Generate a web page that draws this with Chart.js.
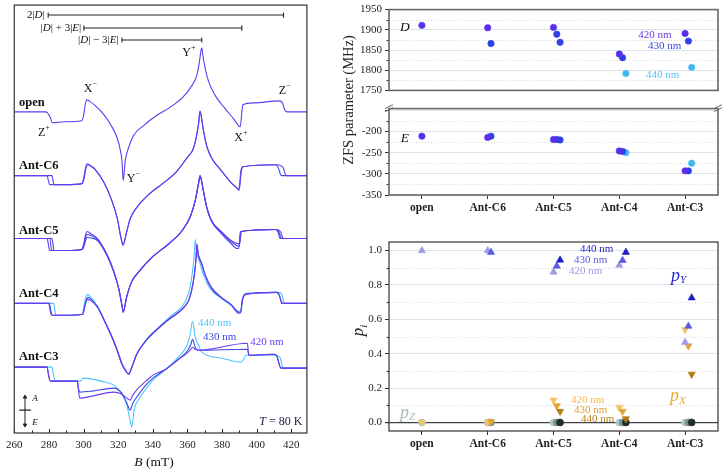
<!DOCTYPE html>
<html>
<head>
<meta charset="utf-8">
<script src="https://cdn.jsdelivr.net/npm/chart.js@4"></script>
<style>
  body { margin: 0; background: #fff; width: 725px; height: 469px; overflow: hidden; position: relative; font-family: "Liberation Serif", serif; }
  canvas { position: absolute; }
  .ylab { position: absolute; white-space: nowrap; transform: rotate(-90deg); transform-origin: center; text-align: center; color: #222; line-height: 18px; }
</style>
</head>
<body>
<canvas id="spec" width="312" height="469" style="left:0;top:0;width:312px;height:469px"></canvas>
<canvas id="zfsD" width="395" height="100" style="left:330px;top:0;width:395px;height:100px"></canvas>
<canvas id="zfsE" width="395" height="125" style="left:330px;top:99px;width:395px;height:125px"></canvas>
<canvas id="pops" width="395" height="244" style="left:330px;top:225px;width:395px;height:244px"></canvas>
<div class="ylab" style="left:258px;top:91px;width:180px;font-size:14.5px">ZFS parameter (MHz)</div>
<div class="ylab" style="left:338px;top:321px;width:40px;font-size:17px"><i>p</i><i style="font-size:11px;position:relative;top:4px">i</i></div>
<script>
// ---- categories / measured parameters ----
const categories = ['open', 'Ant-C6', 'Ant-C5', 'Ant-C4', 'Ant-C3'];

const zfsD420 = [1911, 1905, 1906, 1840, 1891];
const zfsD430 = [null, 1866, 1889, 1831, 1872];
const zfsD440 = [null, null, 1869, 1792, 1807];
const zfsE420 = [-211, -214, -219, -246, -293];
const zfsE430 = [null, -211, -219, -247, -293];
const zfsE440 = [null, null, -220, -250, -275];

const pY420 = [1.0, 1.0, 0.875, 0.915, 0.465];
const pY430 = [null, 0.99, 0.91, 0.943, 0.56];
const pY440 = [null, null, 0.945, 0.99, 0.725];
const pX420 = [0, 0, 0.13, 0.087, 0.54];
const pX430 = [null, 0.005, 0.097, 0.064, 0.445];
const pX440 = [null, null, 0.064, 0.021, 0.28];
const pZ420 = [0, 0, 0, 0, 0];
const pZ430 = [null, 0, 0, 0, 0];
const pZ440 = [null, null, 0, 0, 0];

// ---- EPR spectra: [B (mT), signal rel. to baseline (a.u.)] ----
const specOpen = [[260,0],[278,0],[279.2,-0.1],[280.9,-0.6],[282,-1.1],[289.3,-1.0],[298.9,-0.9],[300,-0.4],[301.2,0.9],[302.1,1.2],[304,1.0],[306.3,0.7],[311.9,-0.3],[315.7,-1.3],[319.4,-2.6],[321.3,-3.9],[322.2,-4.9],[322.9,-6.9],[324.1,-4.9],[326,-3.6],[328.8,-2.4],[334.5,-1.4],[342,-0.4],[349.5,0.4],[357,1.4],[361.7,2.4],[365.5,3.7],[367,5.1],[367.9,6.2],[368.3,6.4],[368.9,5.7],[370.2,4.4],[372.1,3.1],[375.8,1.7],[381.4,0.4],[387.1,-0.8],[389.6,-1.4],[390.5,-1.5],[391.3,-0.3],[392,0.7],[398.4,0.9],[413.4,1.1],[414.9,0.9],[416.2,0.2],[417.5,0],[429,0]];

const specC6_420 = [[260,0],[279,0],[279.7,-0.5],[280.4,-0.9],[290,-0.9],[299,-0.8],[300,-0.3],[301.2,0.8],[302.1,1.2],[304,1.0],[306.3,0.7],[311.9,-0.7],[315.7,-2.2],[319.4,-4.2],[321.6,-6.2],[322.8,-7.0],[324.7,-5.8],[327,-4.3],[330.7,-3.2],[338.2,-1.8],[345.7,-0.8],[353.2,0.3],[359.8,1.8],[363.6,2.8],[366.4,5.2],[367.3,6.5],[369.2,4.6],[371.1,3.0],[373.9,1.8],[379.6,0.5],[385.2,-0.7],[389,-1.3],[389.9,-1.45],[391.2,0.5],[392.2,0.9],[411.6,1.1],[415.3,0.8],[416.4,0.2],[417.4,0],[429,0]];
const specC6_430 = [[260,0],[281.8,0],[282.4,-0.5],[283,-0.9],[290,-0.9],[299.3,-0.8],[300.3,-0.3],[301.5,0.8],[302.4,1.1],[304.3,0.95],[306.5,0.65],[311.9,-0.7],[315.7,-2.2],[319.4,-4.2],[321.6,-6.2],[322.8,-6.9],[324.7,-5.8],[327,-4.3],[330.7,-3.2],[338.2,-1.8],[345.7,-0.8],[353.2,0.3],[359.8,1.8],[363.6,2.8],[366.4,5.1],[367.2,6.4],[369.2,4.6],[371.1,3.0],[373.9,1.8],[379.6,0.5],[385.2,-0.7],[388.8,-1.3],[389.6,-1.45],[390.9,0.5],[391.9,0.9],[411,1.1],[412.5,0.8],[413.6,0.2],[414.5,0],[429,0]];

const specC5_420 = [[260,0],[279,0],[279.7,-0.6],[280.4,-1.2],[290,-1.2],[299,-1.1],[300,-0.6],[301.2,0.4],[302.1,0.7],[304,0.5],[308.1,0],[313.8,-1.7],[317.5,-3.3],[320.3,-5.0],[322.2,-6.7],[322.9,-7.4],[325,-5.8],[327.9,-4.3],[332.6,-3.2],[340.1,-1.8],[349.5,-0.5],[357,0.8],[361.7,2.2],[364.5,3.8],[366.4,5.5],[367.3,6.3],[369.2,4.8],[371.1,3.2],[373.9,1.8],[379.6,0.7],[385.2,-0.2],[389.3,-0.5],[390.2,-0.5],[391.2,0.7],[411.6,0.9],[414,0.6],[415,0.1],[415.5,0],[429,0]];
const specC5_430 = [[260,0],[280.5,0],[281.1,-0.6],[281.6,-1.2],[290,-1.2],[299.2,-1.1],[300.2,-0.6],[301.4,0.2],[302.3,0.4],[304.2,0.3],[308.1,-0.1],[313.8,-1.7],[317.5,-3.3],[320.3,-5.0],[322.2,-6.7],[322.9,-7.4],[325,-5.8],[327.9,-4.3],[332.6,-3.2],[340.1,-1.8],[349.5,-0.5],[357,0.8],[361.7,2.2],[364.5,3.8],[366.4,5.5],[367.3,6.3],[369.2,4.8],[371.1,3.2],[373.9,1.8],[379.6,0.6],[385.2,-0.3],[389,-0.75],[389.9,-0.8],[390.9,0.7],[411.6,0.9],[413,0.6],[414,0.1],[414.5,0],[429,0]];
const specC5_440 = [[260,0],[281.8,0],[282.4,-0.6],[283,-1.2],[290,-1.2],[299.4,-1.1],[300.4,-0.7],[301.6,0],[302.5,0.1],[304.4,0.05],[308.1,-0.2],[313.8,-1.8],[317.5,-3.4],[320.3,-5.0],[322.2,-6.7],[322.9,-7.3],[325,-5.8],[327.9,-4.3],[332.6,-3.2],[340.1,-1.8],[349.5,-0.5],[357,0.8],[361.7,2.2],[364.5,3.8],[366.4,5.5],[367.3,6.2],[369.2,4.8],[371.1,3.1],[373.9,1.7],[379.6,0.5],[385.2,-0.5],[388.7,-1.0],[389.6,-1.0],[390.6,0.7],[411,0.9],[412.4,0.6],[413.2,0.1],[413.6,0],[429,0]];

const specC4_420 = [[260,0],[279.9,0],[280.6,-0.6],[281.5,-1.2],[290,-1.2],[299.5,-1.1],[300.5,-0.5],[301.6,0.2],[302.5,0.4],[304,0.3],[308.1,-0.4],[311.9,-1.7],[315.7,-3.1],[319.4,-4.7],[322.2,-6.1],[324.1,-6.7],[326,-7.1],[327.9,-6.4],[330.7,-5.1],[336.3,-3.7],[343.9,-2.4],[349.5,-1.6],[357,-0.6],[360.8,0.3],[362.5,1.3],[364,2.8],[365,4.5],[365.5,5.9],[366.3,4.9],[368.3,4.0],[370.2,2.9],[373.9,1.6],[379.6,0.6],[385.2,-0.1],[389.9,-0.9],[390.8,-0.9],[391.8,0.3],[393.7,0.9],[411.6,1.1],[413,0.8],[414,0.2],[414.4,0],[429,0]];
const specC4_430 = [[260,0],[280.3,0],[281,-0.6],[281.9,-1.2],[290,-1.2],[299.6,-1.1],[300.6,-0.4],[301.7,0.4],[302.6,0.6],[304.1,0.45],[308.1,-0.35],[311.9,-1.7],[315.7,-3.1],[319.4,-4.7],[322.2,-6.1],[324.1,-6.7],[326,-7.1],[327.9,-6.4],[330.7,-5.1],[336.3,-3.7],[343.9,-2.4],[349.5,-1.55],[357,-0.55],[360.8,0.35],[362.5,1.4],[364,2.9],[365,4.6],[365.4,5.9],[366.2,4.9],[368.3,3.9],[370.2,2.8],[373.9,1.5],[379.6,0.55],[385.2,-0.15],[389.7,-1.0],[390.6,-1.0],[391.6,0.3],[393.5,0.9],[411.6,1.1],[413.2,0.8],[414.2,0.2],[414.6,0],[429,0]];
const specC4_440 = [[260,0],[282.7,0],[283.3,-0.6],[284.2,-1.2],[290,-1.2],[299.2,-1.1],[300.2,-0.3],[301.3,0.6],[302.2,0.9],[303.8,0.7],[308.1,-0.3],[311.9,-1.6],[315.7,-3.0],[319.4,-4.6],[322.2,-6.0],[324.4,-6.7],[326.3,-7.1],[328.2,-6.3],[331,-5.0],[336.3,-3.6],[343.9,-2.3],[349.5,-1.4],[357,-0.3],[359.8,0.6],[361.5,1.6],[363,3.3],[364,5.0],[364.5,6.4],[365.3,5.2],[367.3,4.0],[369.2,2.9],[373,1.5],[379.6,0.5],[385.2,-0.2],[389.9,-0.8],[390.8,-0.8],[391.8,0.4],[393.7,1.0],[412.5,1.1],[414.5,0.9],[415.6,0.2],[416,0],[429,0]];

const specC3_420 = [[260,0],[279,0],[279.7,-0.7],[280.9,-1.4],[296.5,-1.4],[297,-2.2],[297.8,-3.1],[305,-2.9],[317.5,-2.5],[322,-2.7],[325,-3.1],[326.9,-3.3],[328.5,-2.8],[331.6,-2.1],[336,-1.4],[340.1,-0.8],[347.6,-0.2],[354.2,0.7],[359.8,1.4],[362,1.8],[363,2.0],[364.5,1.8],[366.4,1.7],[394.6,2.4],[395.5,1.2],[410,1.3],[411.7,1.1],[413,0.3],[414,-0.1],[429,-0.1]];
const specC3_430 = [[260,0],[279,0],[279.7,-0.7],[280.9,-1.4],[296.5,-1.4],[297,-2.0],[297.8,-2.5],[305,-2.4],[317.5,-2.1],[322,-2.6],[325,-3.6],[326.9,-4.3],[328.5,-3.6],[331.6,-2.8],[336,-1.8],[340.1,-1.1],[347.6,-0.2],[354.2,0.7],[359.8,1.6],[362,2.3],[363,2.8],[364.5,2.0],[366.4,1.7],[394.6,1.8],[395.5,1.2],[410,1.3],[411.7,1.1],[413,0.3],[414,-0.1],[429,-0.1]];
const specC3_440 = [[260,0],[281.8,0],[282.6,-0.7],[283.7,-1.4],[298.4,-1.4],[299.2,-1.2],[300,-1.1],[305,-1.2],[310,-1.4],[317.5,-1.8],[322,-2.6],[325,-3.8],[326.5,-5.0],[327.9,-6.0],[329.3,-4.2],[331.6,-3.3],[336,-2.2],[340.1,-1.3],[347.6,-0.2],[354.2,0.9],[359.8,2.2],[361.5,3.2],[363,4.6],[364.5,3.0],[366.4,2.2],[368.3,1.5],[380,0.9],[390.8,0.5],[392.5,0.8],[393.6,1.2],[410,1.2],[413.4,1.0],[414.5,0.3],[415.3,-0.1],[429,-0.1]];

// vertical stacking of the traces (open, C6, C5, C4, C3)
const traceOffsets = [32.2, 25.8, 19.5, 13.0, 6.6];
// field-separation bars: 2|D|, |D|+3|E|, |D|-3|E|
const barSpans = [[279.6, 415.5], [300.2, 391.4], [322.2, 368.3]];

// ---- colours ----
const cOpen = '#5b3df0', c420 = '#6b3cf0', c430 = '#3a48ea', c440 = '#4cc6f8';
const SERIF = '"Liberation Serif", serif';
Chart.defaults.font.family = SERIF;
Chart.defaults.color = '#222';

function fontStr(p, it) {
  const it_ = (p.italic !== undefined ? p.italic : it.italic) ? 'italic ' : '';
  const bd = (p.bold !== undefined ? p.bold : it.bold) ? 'bold ' : '';
  return it_ + bd + (p.size || it.size || 11) + 'px ' + SERIF;
}

// text drawn in data coordinates
function textLayer(items) {
  return {
    id: 'textLayer',
    afterDraw(chart) {
      const ctx = chart.ctx, xs = chart.scales.x, ys = chart.scales.y;
      ctx.save();
      ctx.textBaseline = 'middle';
      ctx.textAlign = 'left';
      items.forEach(it => {
        const parts = typeof it.text === 'string' ? [{ t: it.text }] : it.text;
        const widths = parts.map(p => { ctx.font = fontStr(p, it); return ctx.measureText(p.t).width; });
        const w = widths.reduce((a, b) => a + b, 0);
        let px = xs.getPixelForValue(it.x);
        const py = ys.getPixelForValue(it.y);
        if (it.align === 'right') px -= w;
        else if (it.align !== 'left') px -= w / 2;
        parts.forEach((p, i) => {
          ctx.font = fontStr(p, it);
          ctx.fillStyle = p.color || it.color || '#111';
          ctx.fillText(p.t, px, py + (p.dy || 0));
          px += widths[i];
        });
      });
      ctx.restore();
    }
  };
}

function frame(color, width, breakTop) {
  return {
    id: 'frame',
    afterDatasetsDraw(chart) {
      const { ctx, chartArea: a } = chart;
      ctx.save();
      ctx.strokeStyle = color;
      ctx.lineWidth = width;
      ctx.strokeRect(a.left, a.top, a.right - a.left, a.bottom - a.top);
      if (breakTop) {
        ctx.lineWidth = 1;
        [a.left, a.right].forEach(x => {
          [-2, 1].forEach(d => {
            ctx.beginPath();
            ctx.moveTo(x - 4, a.top + d + 2);
            ctx.lineTo(x + 4, a.top + d - 2);
            ctx.stroke();
          });
        });
      }
      ctx.restore();
    }
  };
}

// dotted minor grid + short minor ticks on the y axis
function minorGrid(step) {
  return {
    id: 'minorGrid',
    beforeDatasetsDraw(chart) {
      const { ctx, chartArea: a, scales: { y } } = chart;
      const n0 = Math.ceil(y.min / step - 1e-9), n1 = Math.floor(y.max / step + 1e-9);
      ctx.save();
      ctx.lineWidth = 1;
      for (let n = n0; n <= n1; n++) {
        if (n % 2 === 0) continue;
        const py = Math.round(y.getPixelForValue(n * step)) + 0.5;
        ctx.strokeStyle = '#d6d6d6';
        ctx.setLineDash([1, 2]);
        ctx.beginPath(); ctx.moveTo(a.left, py); ctx.lineTo(a.right, py); ctx.stroke();
        ctx.setLineDash([]);
        ctx.strokeStyle = '#333';
        ctx.beginPath(); ctx.moveTo(a.left - 2.5, py); ctx.lineTo(a.left, py); ctx.stroke();
      }
      ctx.restore();
    }
  };
}

// inward ticks on the field axis (major 20 mT, minor 10 mT)
const innerTicks = {
  id: 'innerTicks',
  afterDatasetsDraw(chart) {
    const { ctx, chartArea: a, scales: { x } } = chart;
    ctx.save();
    ctx.strokeStyle = '#222';
    ctx.lineWidth = 1;
    for (let n = Math.ceil(x.min / 10); n <= Math.floor(x.max / 10); n++) {
      const px = Math.round(x.getPixelForValue(n * 10)) + 0.5;
      const len = n % 2 === 0 ? 4 : 2.5;
      ctx.beginPath(); ctx.moveTo(px, a.bottom); ctx.lineTo(px, a.bottom - len); ctx.stroke();
    }
    ctx.restore();
  }
};

// ================= left: spectra =================
const trace = (spec, off, color) => ({
  data: spec.map(p => ({ x: p[0], y: p[1] + off })),
  borderColor: color, borderWidth: 1.1, pointRadius: 0,
  cubicInterpolationMode: 'monotone', fill: false
});
const bar = (span, y) => ({
  data: [{ x: span[0], y: y }, { x: span[1], y: y }],
  borderColor: '#222', borderWidth: 1.1,
  pointStyle: 'line', pointRotation: 90, pointRadius: 2.6,
  pointBorderColor: '#222', pointBorderWidth: 1.1
});
const barLevels = [41.9, 40.6, 39.4];

const specDatasets = [
  trace(specOpen, traceOffsets[0], cOpen),
  trace(specC6_420, traceOffsets[1], c420),
  trace(specC6_430, traceOffsets[1], c430),
  trace(specC5_420, traceOffsets[2], c420),
  trace(specC5_430, traceOffsets[2], '#5040ee'),
  trace(specC5_440, traceOffsets[2], c430),
  trace(specC4_420, traceOffsets[3], c420),
  trace(specC4_430, traceOffsets[3], c430),
  trace(specC4_440, traceOffsets[3], c440),
  trace(specC3_420, traceOffsets[4], c420),
  trace(specC3_430, traceOffsets[4], c430),
  trace(specC3_440, traceOffsets[4], c440),
  bar(barSpans[0], barLevels[0]),
  bar(barSpans[1], barLevels[1]),
  bar(barSpans[2], barLevels[2]),
  { data: [{ x: 266.2, y: 0.8 }, { x: 266.2, y: 3.6 }], borderColor: '#222', borderWidth: 1,
    pointStyle: 'triangle', pointRotation: [180, 0], pointRadius: 2, pointBackgroundColor: '#222', pointBorderColor: '#222' },
  { data: [{ x: 262.8, y: 2.3 }, { x: 269.6, y: 2.3 }], borderColor: '#222', borderWidth: 1.2, pointRadius: 0 }
];

const sup = (t) => ({ t: t, size: 8, dy: -5 });
const specTexts = [
  { x: 262.7, y: 33.1, text: 'open', bold: true, size: 12.5, align: 'left' },
  { x: 262.7, y: 26.8, text: 'Ant-C6', bold: true, size: 12.5, align: 'left' },
  { x: 262.7, y: 20.3, text: 'Ant-C5', bold: true, size: 12.5, align: 'left' },
  { x: 262.7, y: 14.0, text: 'Ant-C4', bold: true, size: 12.5, align: 'left' },
  { x: 262.7, y: 7.6, text: 'Ant-C3', bold: true, size: 12.5, align: 'left' },
  { x: 304.0, y: 34.5, text: [{ t: 'X' }, sup('\u2212')], size: 12 },
  { x: 277.1, y: 30.1, text: [{ t: 'Z' }, sup('+')], size: 12 },
  { x: 360.8, y: 38.1, text: [{ t: 'Y' }, sup('+')], size: 12 },
  { x: 390.9, y: 29.6, text: [{ t: 'X' }, sup('+')], size: 12 },
  { x: 416.2, y: 34.3, text: [{ t: 'Z' }, sup('\u2212')], size: 12 },
  { x: 328.8, y: 25.5, text: [{ t: 'Y' }, sup('\u2212')], size: 12 },
  { x: 277.6, y: barLevels[0], text: [{ t: '2|' }, { t: 'D', italic: true }, { t: '|' }], size: 11, align: 'right' },
  { x: 298.7, y: barLevels[1], text: [{ t: '|' }, { t: 'D', italic: true }, { t: '| + 3|' }, { t: 'E', italic: true }, { t: '|' }], size: 11, align: 'right' },
  { x: 320.3, y: barLevels[2], text: [{ t: '|' }, { t: 'D', italic: true }, { t: '| \u2212 3|' }, { t: 'E', italic: true }, { t: '|' }], size: 11, align: 'right' },
  { x: 375.8, y: 11.0, text: '440 nm', color: c440, size: 11 },
  { x: 378.6, y: 9.6, text: '430 nm', color: c430, size: 11 },
  { x: 405.9, y: 9.1, text: '420 nm', color: c420, size: 11 },
  { x: 426.4, y: 1.13, text: [{ t: 'T', italic: true }, { t: ' = 80 K' }], color: '#1c1c48', size: 12, align: 'right' },
  { x: 270.4, y: 3.4, text: 'A', italic: true, size: 9, align: 'left' },
  { x: 270.4, y: 1.0, text: 'E', italic: true, size: 9, align: 'left' },
  { x: 340.7, y: -3.0, text: [{ t: 'B', italic: true }, { t: ' (mT)' }], size: 13.5 }
];

new Chart(document.getElementById('spec'), {
  type: 'line',
  data: { datasets: specDatasets },
  options: {
    responsive: false, animation: false, events: [],
    layout: { padding: { left: 8, top: 4, right: 4, bottom: 0 } },
    plugins: { legend: { display: false }, tooltip: { enabled: false } },
    scales: {
      x: {
        type: 'linear', min: 260, max: 429,
        afterFit: s => { s.height = 36; },
        ticks: { stepSize: 20, includeBounds: false, padding: 6, font: { size: 11 }, color: '#222', callback: v => String(v) },
        grid: { drawOnChartArea: false, drawTicks: false },
        border: { display: false }
      },
      y: { display: false, min: 0, max: 42.9 }
    }
  },
  plugins: [innerTicks, frame('#333', 1.2, false), textLayer(specTexts)]
});

// ================= right top: ZFS parameters =================
const jitter = [0, 0.05, 0.1];
const series = (vals, shift) => vals.map((v, i) => ({ x: i + shift, y: v }));
const xCat = (showLabels, height) => ({
  type: 'linear', min: -0.5, max: 4.5, display: showLabels,
  afterBuildTicks: s => { s.ticks = categories.map((c, i) => ({ value: i })); },
  afterFit: s => { s.height = height; },
  ticks: { callback: v => categories[v], padding: 2, font: { size: 11.5, weight: 'bold' }, color: '#222', maxRotation: 0 },
  grid: { drawOnChartArea: false, drawTicks: true, tickLength: 4, tickColor: '#333' },
  border: { display: false }
});
const yAxis = (min, max, ticks, fmt) => ({
  min: min, max: max,
  afterBuildTicks: s => { s.ticks = ticks.map(v => ({ value: v })); },
  afterFit: s => { s.width = 59; },
  ticks: { callback: fmt, padding: 3, font: { size: 11 }, color: '#222' },
  grid: {
    color: c => (c.tick && c.tick.value === 0) ? '#444' : '#d9e3e8',
    lineWidth: c => (c.tick && c.tick.value === 0) ? 1.2 : 1,
    tickLength: 4, tickColor: '#333'
  },
  border: { display: false }
});
const dot = (vals, shift, color, extra) => Object.assign({
  data: series(vals, shift), pointRadius: 3.2, pointStyle: 'circle',
  pointBackgroundColor: color, pointBorderColor: color, pointBorderWidth: 0.6
}, extra || {});

const c5Mixed = ['#44b8f2', '#44b8f2', '#3442e6', '#44b8f2', '#44b8f2'];
const zCol420 = '#5b2fea', zCol430 = '#2f3fe6';

const zfsDTexts = [
  { x: -0.26, y: 1905, text: 'D', italic: true, size: 13.5 },
  { x: 3.54, y: 1886, text: '420 nm', color: '#6a36e6', size: 11 },
  { x: 3.69, y: 1859, text: '430 nm', color: '#3a4ae0', size: 11 },
  { x: 3.66, y: 1789, text: '440 nm', color: '#5cc2f2', size: 11 }
];
new Chart(document.getElementById('zfsD'), {
  type: 'scatter',
  data: { datasets: [
    dot(zfsD420, jitter[0], zCol420),
    dot(zfsD430, jitter[1], zCol430),
    dot(zfsD440, jitter[2], null, { pointBackgroundColor: c5Mixed, pointBorderColor: c5Mixed })
  ] },
  options: {
    responsive: false, animation: false, events: [],
    layout: { padding: { left: 0, top: 5, right: 7, bottom: 1 } },
    plugins: { legend: { display: false }, tooltip: { enabled: false } },
    scales: {
      x: xCat(false, 0),
      y: yAxis(1750, 1950, [1750, 1800, 1850, 1900, 1950], v => String(v))
    }
  },
  plugins: [minorGrid(25), frame('#666', 1.6, false), textLayer(zfsDTexts)]
});

new Chart(document.getElementById('zfsE'), {
  type: 'scatter',
  data: { datasets: [
    dot(zfsE420, jitter[0], zCol420),
    dot(zfsE430, jitter[1], zCol430),
    dot(zfsE440, jitter[2], null, { pointBackgroundColor: c5Mixed, pointBorderColor: c5Mixed })
  ] },
  options: {
    responsive: false, animation: false, events: [],
    layout: { padding: { left: 0, top: 1, right: 7, bottom: 0 } },
    plugins: { legend: { display: false }, tooltip: { enabled: false } },
    scales: {
      x: xCat(true, 29),
      y: yAxis(-350, -146, [-350, -300, -250, -200, -150], v => v === -150 ? '' : String(v))
    }
  },
  plugins: [minorGrid(25), frame('#666', 1.6, true), textLayer([{ x: -0.26, y: -216.5, text: 'E', italic: true, size: 13.5 }])]
});

// ================= right bottom: populations =================
const yCols = ['#9c9ce6', '#5a5ae0', '#1c1cc4'];
const xCols = ['#f2c466', '#e3a232', '#b27a12'];
const zCols = ['#b4c6c6', '#7a9292', '#1e2e2e'];
const tri = (vals, shift, color, down) => ({
  data: series(vals, shift), pointStyle: 'triangle', pointRotation: down ? 180 : 0,
  pointRadius: 4.2, pointBackgroundColor: color, pointBorderColor: color, pointBorderWidth: 0.6
});
const circ = (vals, shift, color) => ({
  data: series(vals, shift), pointStyle: 'circle', pointRadius: 3.5,
  pointBackgroundColor: color, pointBorderColor: color, pointBorderWidth: 0.6
});
const subP = (letter, color) => [{ t: 'p', italic: true, size: 18, color: color }, { t: letter, italic: true, size: 11, dy: 4, color: color }];
const popTexts = [
  { x: 2.657, y: 1.008, text: '440 nm', color: '#2424c8', size: 11 },
  { x: 2.565, y: 0.945, text: '430 nm', color: '#5a5ade', size: 11 },
  { x: 2.49, y: 0.881, text: '420 nm', color: '#9c9ce2', size: 11 },
  { x: 3.90, y: 0.849, text: subP('Y', '#2a2ad0') },
  { x: 2.52, y: 0.130, text: '420 nm', color: '#f2bc50', size: 11 },
  { x: 2.565, y: 0.072, text: '430 nm', color: '#dea035', size: 11 },
  { x: 2.67, y: 0.020, text: '440 nm', color: '#b8801c', size: 11 },
  { x: 3.89, y: 0.150, text: subP('X', '#eeac36') },
  { x: -0.217, y: 0.056, text: subP('Z', '#aabcbc') }
];

new Chart(document.getElementById('pops'), {
  type: 'scatter',
  data: { datasets: [
    tri(pY440, jitter[2], yCols[2], false),
    tri(pY430, jitter[1], yCols[1], false),
    tri(pY420, jitter[0], yCols[0], false),
    tri(pX440, jitter[2], xCols[2], true),
    tri(pX430, jitter[1], xCols[1], true),
    tri(pX420, jitter[0], xCols[0], true),
    circ(pZ440, jitter[2], zCols[2]),
    circ(pZ430, jitter[1], zCols[1]),
    circ(pZ420, jitter[0], zCols[0])
  ] },
  options: {
    responsive: false, animation: false, events: [],
    layout: { padding: { left: 0, top: 17, right: 7, bottom: 0 } },
    plugins: { legend: { display: false }, tooltip: { enabled: false } },
    scales: {
      x: xCat(true, 38),
      y: yAxis(-0.05, 1.05, [0, 0.2, 0.4, 0.6, 0.8, 1.0], v => v.toFixed(1))
    }
  },
  plugins: [minorGrid(0.1), frame('#333', 1.2, false), textLayer(popTexts)]
});
</script>
</body>
</html>
